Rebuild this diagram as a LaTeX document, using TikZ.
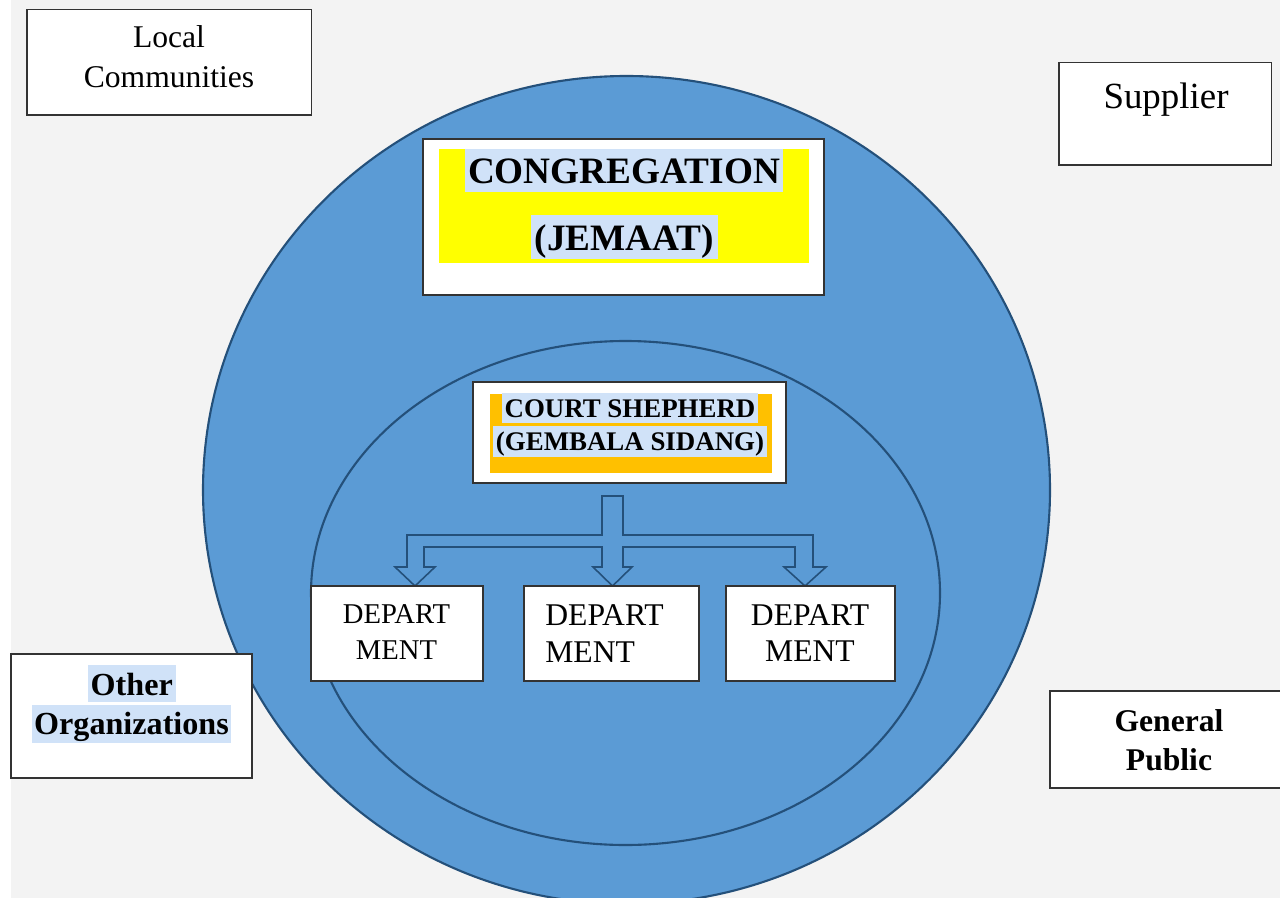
\documentclass[tikz,border=0pt]{standalone}
\usepackage{fontspec}
\setmainfont{Liberation Serif}

\definecolor{bgray}{HTML}{F3F3F3}
\definecolor{ringblue}{HTML}{5B9BD5}
\definecolor{ringline}{HTML}{24507A}
\definecolor{hlblue}{HTML}{D0E2F8}
\definecolor{jyellow}{HTML}{FFFF00}
\definecolor{gorange}{HTML}{FFC000}
\newcommand{\fs}[2]{\fontsize{#1}{#2}\selectfont}

\tikzset{
  box/.style={draw=black!80, fill=white, line width=0.8pt, inner sep=0pt},
  sz/.style 2 args={minimum width=#1*0.02cm, minimum height=#2*0.02cm},
  txt/.style={inner sep=0pt, align=center, anchor=base},
  hl/.style={fill=hlblue, inner xsep=1.5pt, inner ysep=0pt, anchor=base}
}

\begin{document}
\begin{tikzpicture}[x=0.02cm, y=-0.02cm]
        \useasboundingbox (0,0) rectangle (1280,898);
        \clip (0,0) rectangle (1280,898);

        % Background
        \fill[white] (0,0) rectangle (1280,898);
        \fill[bgray] (11,0) rectangle (1280,898);

        % Outer and inner ring
        \draw[ringline, line width=1.2pt, fill=ringblue] (626.5,490) ellipse [x radius=423.5, y radius=414];
        \draw[ringline, line width=1.2pt] (625.5,593) ellipse [x radius=314.5, y radius=252];

        % Stakeholders outside (base = last line)
        \node[box, sz={284.7}{105.7}] (loc) at (169.3,62.1) {};
        \node[txt, font=\fs{18}{23.2}] (loctext) at (169,88) {Local\\Communities};

        \node[box, sz={212.7}{102.7}] (sup) at (1165.3,113.7) {};
        \node[txt, font=\fs{21}{25}] (suptext) at (1166,108.3) {Supplier};

        \node[box, sz={241}{124}] (oth) at (131.5,716) {};
        \node[hl, font=\fs{18.3}{22}\bfseries, text height=17pt, text depth=3.8pt] (othtext1) at (131.8,695) {Other};
        \node[hl, font=\fs{18.3}{22}\bfseries, text height=16.5pt, text depth=4.9pt] (othtext2) at (131.5,734) {Organizations};

        \node[box, sz={240}{97}] (gen) at (1170,739.5) {};
        \node[txt, font=\fs{18}{22.1}\bfseries] (gentext) at (1169,770.7) {General\\Public};

        % Congregation
        \node[box, sz={401}{156}] (cong) at (623.5,217) {};
        \fill[jyellow] (439,149) rectangle (809,263);
        \node[hl, font=\fs{21.2}{24}\bfseries, text height=19.8pt, text depth=4.4pt] (congtext1) at (624,184) {CONGREGATION};
        \node[hl, font=\fs{21.2}{24}\bfseries, text height=20.2pt, text depth=4.7pt, inner xsep=2pt] (congtext2) at (624.5,250.7) {(JEMAAT)};

        % Court shepherd
        \node[box, sz={313}{101}] (court) at (629.5,432.5) {};
        \fill[gorange] (490,394) rectangle (771.7,472.7);
        \node[hl, font=\fs{15.3}{18}\bfseries, text height=13.8pt, text depth=3.2pt] (courttext1) at (630,417.3) {COURT SHEPHERD};
        \node[hl, font=\fs{15.3}{18}\bfseries, text height=14pt, text depth=3.6pt] (courttext2) at (630,450.7) {(GEMBALA SIDANG)};

        % Block arrow to the departments
        \draw[ringline, fill=ringblue, line width=0.9pt, line join=miter]
            (602,496) -- (623,496) -- (623,535) -- (813,535) -- (813,567) -- (826,567)
            -- (805,586) -- (784,567) -- (795,567) -- (795,547) -- (623,547) -- (623,567)
            -- (632,567) -- (612.5,586) -- (593,567) -- (602,567) -- (602,547) -- (424,547)
            -- (424,567) -- (435,567) -- (415,586) -- (395,567) -- (407,567) -- (407,535)
            -- (602,535) -- cycle;

        % Departments
        \node[box, sz={172}{95}] (dep1) at (397,633.5) {};
        \node[box, sz={175}{95}] (dep2) at (611.5,633.5) {};
        \node[box, sz={169}{95}] (dep3) at (810.5,633.5) {};
        \node[txt, font=\fs{16.3}{20.2}] (dep1text) at (396.5,659) {DEPART\\MENT};
        \node[txt, font=\fs{18}{21.4}, align=left, anchor=base west] (dep2text) at (545,662.7) {DEPART\\MENT};
        \node[txt, font=\fs{18}{20.8}] (dep3text) at (810,661.7) {DEPART\\MENT};

\end{tikzpicture}
\end{document}
